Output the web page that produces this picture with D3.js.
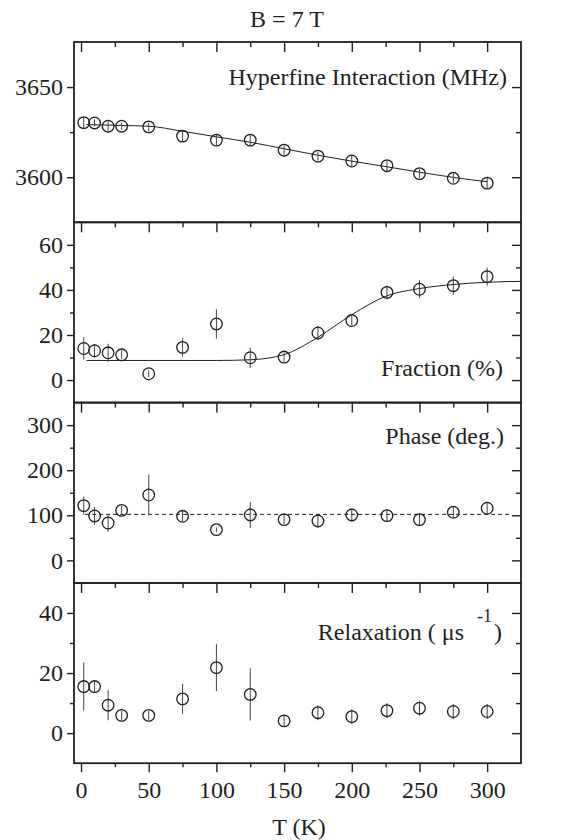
<!DOCTYPE html>
<html>
<head>
<meta charset="utf-8">
<script src="https://cdn.jsdelivr.net/npm/d3@7"></script>
</head>
<body style="margin:0;background:#fff">
<div id="chart"></div>
<script>
'use strict';

// temperatures (K)
var temps = [2, 10, 20, 30, 50, 75, 100, 125, 150, 175, 200, 226, 250, 275, 300];

// hyperfine interaction (MHz)
var hyperfine = [3630.3, 3630.1, 3628.3, 3628.3, 3627.9, 3622.8, 3620.6, 3620.6, 3615.0, 3611.7, 3609.0, 3606.4, 3602.0, 3599.4, 3596.7];
var hyperfineErr = [3, 2, 2.5, 2, 2.5, 3, 3, 3, 2.5, 2.5, 3, 3, 2.5, 2.5, 3];
var hfFitT = [4, 30, 50, 75, 100, 125, 150, 175, 200, 226, 250, 275, 300];
var hfFitV = [3629.2, 3628.7, 3628.3, 3625.5, 3622.4, 3619.4, 3615.8, 3612.2, 3608.9, 3605.8, 3602.8, 3599.9, 3597.5];

// fraction (%)
var fraction = [14.0, 13.0, 12.1, 11.2, 2.8, 14.5, 24.9, 9.9, 10.2, 20.9, 26.4, 38.9, 40.3, 41.9, 45.9];
var fractionErr = [5, 3, 4, 2, 1.5, 4, 6.5, 4.5, 2, 3, 2, 3, 4, 4, 4];
var fracFitT = [4, 50, 100, 125, 150, 175, 200, 226, 250, 275, 300, 325];
var fracFitV = [8.7, 8.7, 8.7, 9.0, 11.3, 19.0, 29.0, 37.4, 40.6, 42.4, 43.4, 43.8];

// phase (deg.)
var phase = [121.5, 98.5, 82.9, 111, 145, 97.8, 68.1, 100.7, 90.4, 87.4, 100.7, 99.2, 90.4, 106.7, 115.6];
var phaseErr = [20, 20, 20, 10, 45, 12, 5, 29, 10, 14, 14, 14, 14, 12, 12];
var phaseRef = 102;

// relaxation (1/us)
var relax = [15.5, 15.5, 9.3, 5.9, 5.9, 11.4, 21.8, 12.9, 4.1, 6.8, 5.5, 7.5, 8.3, 7.2, 7.2];
var relaxErr = [8, 2, 5, 1.5, 1.5, 5, 7.8, 8.7, 2, 2.5, 2.5, 2.5, 2.5, 2.5, 2.5];

var xTicks = [0, 50, 100, 150, 200, 250, 300];
var xMinor = [25, 75, 125, 175, 225, 275];

var width = 561,
    height = 840,
    left = 74,
    right = 521,
    panelTop = 42,
    panelH = 180.3,
    ink = '#231f20',
    fontFam = '"Liberation Serif", serif',
    svg = d3.select('#chart').append('svg').attr('width', width).attr('height', height);

var x = d3.scaleLinear().domain([-5.2, 325]).range([left, right]);

var panels = [
    { values: hyperfine, errs: hyperfineErr, domain: [3575, 3675], ticks: [3600, 3650], minor: [3625],
      fitT: hfFitT, fitV: hfFitV, label: 'Hyperfine Interaction (MHz)', labelY: 85, labelX: 507 },
    { values: fraction, errs: fractionErr, domain: [-10, 70], ticks: [0, 20, 40, 60], minor: [10, 30, 50],
      fitT: fracFitT, fitV: fracFitV, label: 'Fraction (%)', labelY: 376, labelX: 503 },
    { values: phase, errs: phaseErr, domain: [-50, 350], ticks: [0, 100, 200, 300], minor: [50, 150, 250],
      ref: phaseRef, label: 'Phase (deg.)', labelY: 443.5, labelX: 504 },
    { values: relax, errs: relaxErr, domain: [-10, 50], ticks: [0, 20, 40], minor: [10, 30],
      label: 'Relaxation ( \u03bcs', sup: '-1', labelY: 639.5, labelX: 464 }
];

function styleAxis(g) {
    g.attr('font-family', fontFam).attr('font-size', 24);
    g.select('.domain').remove();
    g.selectAll('line').attr('stroke', ink).attr('stroke-width', 1.4);
    g.selectAll('text').attr('fill', ink);
}

function addText(parent, tx, ty, str, size, anchor) {
    return parent.append('text').attr('x', tx).attr('y', ty).attr('fill', ink)
        .attr('text-anchor', anchor).attr('font-size', size).attr('font-family', fontFam).text(str);
}

panels.forEach(function (p, i) {
    var top = panelTop + i * panelH,
        bottom = top + panelH,
        y = d3.scaleLinear().domain(p.domain).range([bottom, top]),
        g = svg.append('g').attr('class', 'panel');

    // left axis (outward ticks with labels)
    g.append('g').attr('transform', 'translate(' + left + ',0)')
        .call(d3.axisLeft(y).tickValues(p.ticks).tickSize(7).tickPadding(4).tickFormat(d3.format('d')))
        .call(styleAxis);
    g.append('g').attr('transform', 'translate(' + left + ',0)')
        .call(d3.axisLeft(y).tickValues(p.minor).tickSize(4).tickFormat(''))
        .call(styleAxis);

    // right axis (inward ticks)
    g.append('g').attr('transform', 'translate(' + right + ',0)')
        .call(d3.axisRight(y).tickValues(p.ticks).tickSize(-9).tickFormat(''))
        .call(styleAxis);
    g.append('g').attr('transform', 'translate(' + right + ',0)')
        .call(d3.axisRight(y).tickValues(p.minor).tickSize(-5).tickFormat(''))
        .call(styleAxis);

    // top axis (inward ticks)
    g.append('g').attr('transform', 'translate(0,' + top + ')')
        .call(d3.axisTop(x).tickValues(xTicks).tickSize(-10).tickFormat(''))
        .call(styleAxis);
    g.append('g').attr('transform', 'translate(0,' + top + ')')
        .call(d3.axisTop(x).tickValues(xMinor).tickSize(-5).tickFormat(''))
        .call(styleAxis);

    // bottom axis on last panel (outward ticks with labels)
    if (i === panels.length - 1) {
        g.append('g').attr('transform', 'translate(0,' + bottom + ')')
            .call(d3.axisBottom(x).tickValues(xTicks).tickSize(9).tickPadding(9))
            .call(styleAxis);
        g.append('g').attr('transform', 'translate(0,' + bottom + ')')
            .call(d3.axisBottom(x).tickValues(xMinor).tickSize(4).tickFormat(''))
            .call(styleAxis);
    }

    // frame
    g.append('rect').attr('x', left).attr('y', top).attr('width', right - left).attr('height', panelH)
        .attr('fill', 'none').attr('stroke', ink).attr('stroke-width', 1.8);

    // fit line
    if (p.fitT) {
        var line = d3.line().curve(d3.curveMonotoneX)
            .x(function (d) { return x(d[0]); })
            .y(function (d) { return y(d[1]); });
        g.append('path').datum(d3.zip(p.fitT, p.fitV)).attr('d', line)
            .attr('fill', 'none').attr('stroke', ink).attr('stroke-width', 1);
    }
    if (p.ref !== undefined) {
        g.append('line').attr('x1', x(3)).attr('x2', x(318)).attr('y1', y(p.ref)).attr('y2', y(p.ref))
            .attr('stroke', ink).attr('stroke-width', 1).attr('stroke-dasharray', '4,3');
    }

    var pts = d3.zip(temps, p.values, p.errs);

    // error bars
    g.selectAll('.err').data(pts).enter().append('line').attr('class', 'err')
        .attr('x1', function (d) { return x(d[0]); })
        .attr('x2', function (d) { return x(d[0]); })
        .attr('y1', function (d) { return y(d[1] - d[2]); })
        .attr('y2', function (d) { return y(d[1] + d[2]); })
        .attr('stroke', '#444').attr('stroke-width', 1);

    // points
    g.selectAll('.pt').data(pts).enter().append('circle').attr('class', 'pt')
        .attr('cx', function (d) { return x(d[0]); })
        .attr('cy', function (d) { return y(d[1]); })
        .attr('r', 5.8)
        .attr('fill', 'none').attr('stroke', ink).attr('stroke-width', 1.3);

    // label
    addText(g, p.labelX, p.labelY, p.label, 24, 'end');
    if (p.sup) {
        addText(g, 477, p.labelY - 18, p.sup, 18, 'start');
        addText(g, 494, p.labelY, ')', 24, 'start');
    }
});

addText(svg, 287, 27, 'B = 7 T', 24, 'middle');
addText(svg, 299, 835, 'T (K)', 24, 'middle');
</script>
</body>
</html>
